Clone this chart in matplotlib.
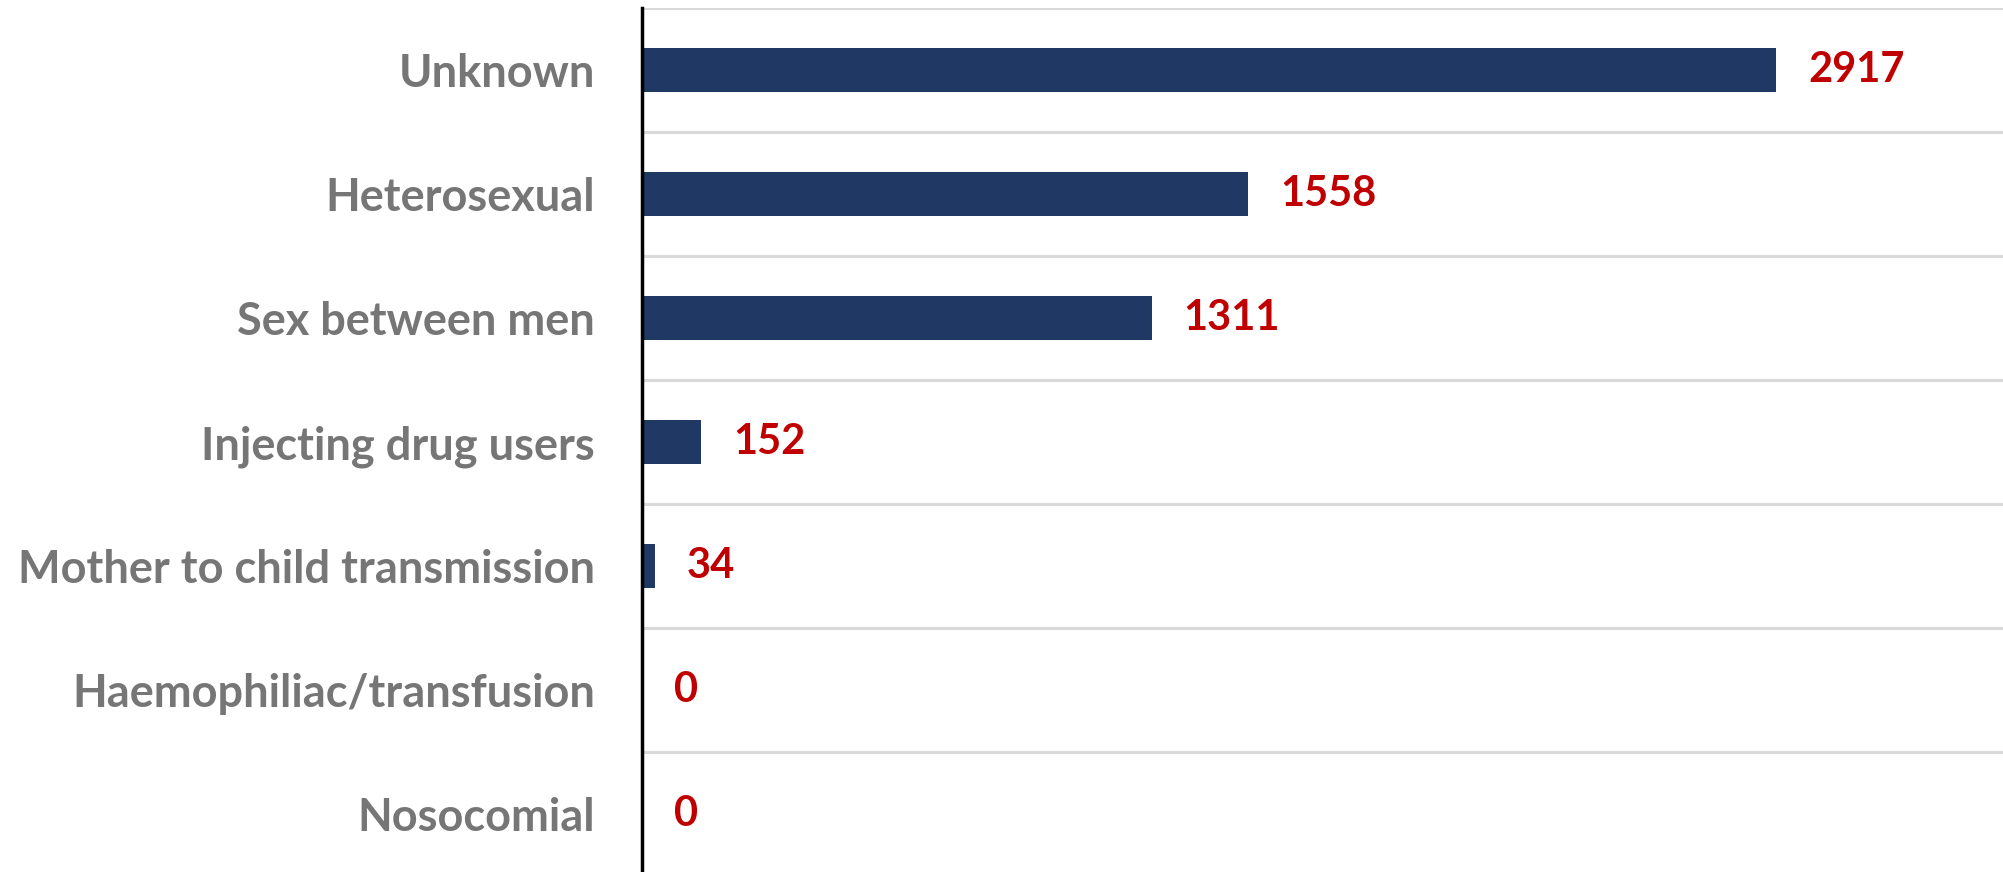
import numpy as np
import matplotlib
matplotlib.use('Agg')
import matplotlib.pyplot as plt

# data
categories = ['Unknown', 'Heterosexual', 'Sex between men', 'Injecting drug users',
              'Mother to child transmission', 'Haemophiliac/transfusion', 'Nosocomial']
values = [2917, 1558, 1311, 152, 34, 0, 0]

bar_color = '#203864'
label_color = '#C00000'
text_color = '#767676'
grid_color = '#D9D9D9'

plt.rcParams['font.family'] = ['Lato', 'DejaVu Sans']

fig = plt.figure(figsize=(20.03, 8.72), dpi=100)
W, H = 2003.0, 872.0
left = 642 / W
top = 1 - 8 / H
height = 7 * 124 / H
ax = fig.add_axes([left, top - height, 1 - left, height])

y = np.arange(len(categories))
bars = ax.barh(y, values, height=0.355, color=bar_color, zorder=3)
ax.set_xlim(0, 3500)
ax.set_ylim(len(categories) - 0.5, -0.5)

# value labels
ax.bar_label(bars, labels=[str(v) for v in values], padding=23,
             color=label_color, fontsize=30, fontweight='bold')

# category gridlines between rows
ax.set_yticks(y)
ax.set_yticklabels(categories, color=text_color, fontsize=32.5, fontweight='bold')
ax.set_yticks(np.arange(len(categories) + 1) - 0.5, minor=True)
ax.grid(True, axis='y', which='minor', color=grid_color, linewidth=2.2, zorder=0)
ax.tick_params(axis='y', which='both', length=0, pad=34)
ax.set_xticks([])

for s in ['top', 'right', 'bottom']:
    ax.spines[s].set_visible(False)
ax.spines['left'].set_linewidth(2.5)
ax.spines['left'].set_color('black')
ax.spines['left'].set_zorder(4)

fig.savefig('out.png', dpi=100)
